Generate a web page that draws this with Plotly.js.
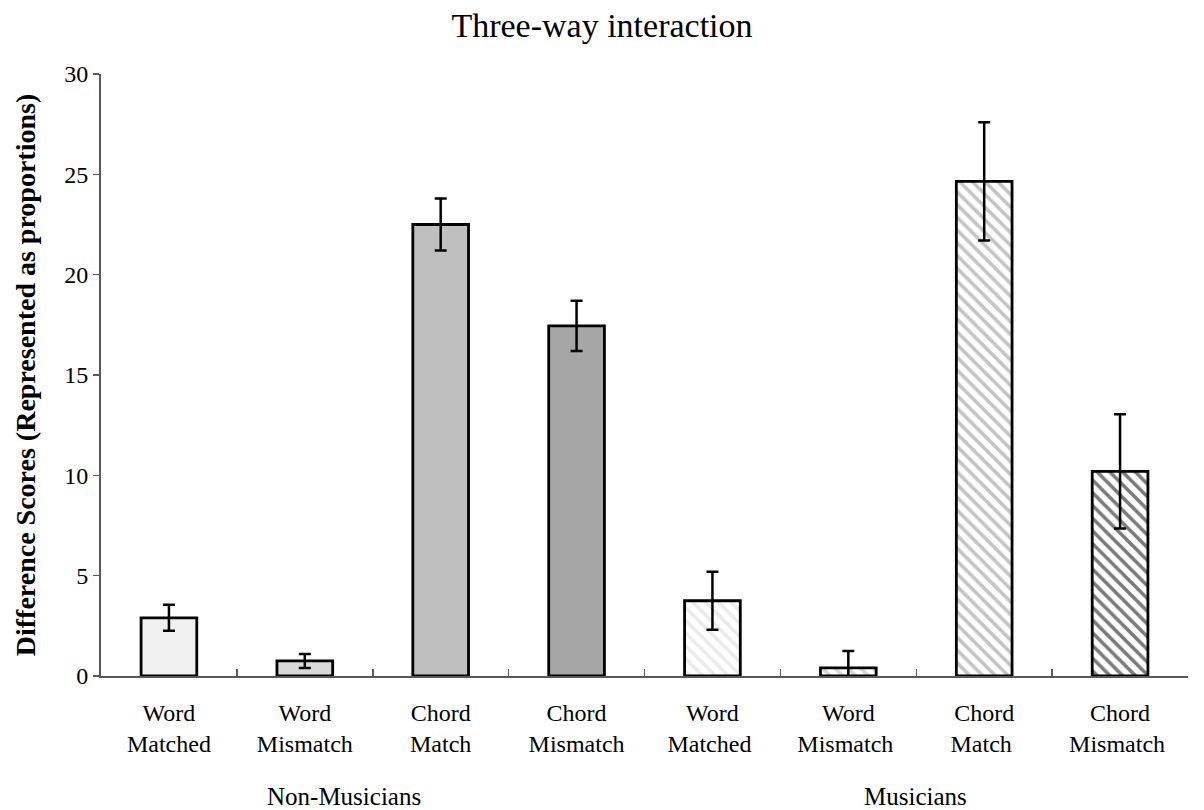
<!DOCTYPE html>
<html>
<head>
<meta charset="utf-8">
<script src="https://cdn.plot.ly/plotly-3.0.1.min.js"></script>
<style>html,body{margin:0;padding:0;background:#fff;}#chart{width:1204px;height:810px;}</style>
</head>
<body>
<div id="chart"></div>
<script>
const categories = ["Word<br>Matched", "Word<br>Mismatch", "Chord<br>Match", "Chord<br>Mismatch",
                    "Word<br>Matched ", "Word<br>Mismatch ", "Chord<br>Match ", "Chord<br>Mismatch "];
const nmCategories = categories.slice(0, 4);
const mCategories = categories.slice(4);
const nmValues = [2.9, 0.75, 22.5, 17.45];
const nmErrors = [0.65, 0.35, 1.3, 1.25];
const mValues = [3.75, 0.4, 24.65, 10.2];
const mErrors = [1.45, 0.85, 2.95, 2.85];
const groupLabels = ["Non-Musicians", "Musicians"];
const nmColors = ["#f0f0f0", "#d9d9d9", "#bfbfbf", "#a6a6a6"];
const mHatchColors = ["#ebebeb", "#d6d6d6", "#c4c4c4", "#7a7a7a"];

const serif = "Liberation Serif, Times New Roman, serif";

const traceNM = {
  type: "bar",
  x: nmCategories,
  y: nmValues,
  width: 0.41,
  marker: {color: nmColors, line: {color: "#000", width: 2.8}},
  error_y: {type: "data", array: nmErrors, visible: true, color: "#000", thickness: 2.5, width: 6}
};

const traceM = {
  type: "bar",
  x: mCategories,
  y: mValues,
  width: 0.41,
  marker: {
    color: "#ffffff",
    line: {color: "#000", width: 2.8},
    pattern: {shape: "\\", fgcolor: mHatchColors, fgopacity: 1, bgcolor: "#ffffff", size: 9, solidity: 0.4, fillmode: "overlay"}
  },
  error_y: {type: "data", array: mErrors, visible: true, color: "#000", thickness: 2.5, width: 6}
};

const layout = {
  width: 1204, height: 810,
  margin: {l: 101, r: 16, t: 74, b: 134},
  paper_bgcolor: "#fff", plot_bgcolor: "#fff",
  showlegend: false,
  barmode: "overlay",
  font: {family: serif, color: "#000", size: 24},
  title: {text: "Three-way interaction", x: 0.5, xanchor: "center", y: 0.969, yanchor: "middle",
          font: {size: 34, family: serif, color: "#000"}},
  xaxis: {
    type: "category",
    categoryorder: "array", categoryarray: categories,
    showline: true, linecolor: "#595959", linewidth: 2,
    ticks: "inside", tickson: "boundaries", ticklen: 7, tickcolor: "#595959", tickwidth: 1.5,
    tickfont: {size: 24, family: serif, color: "#000"},
    ticklabelstandoff: 14,
    showgrid: false, zeroline: false, fixedrange: true
  },
  yaxis: {
    range: [0, 30], dtick: 5, tick0: 0,
    showline: true, linecolor: "#595959", linewidth: 2,
    ticks: "outside", ticklen: 6, tickcolor: "#595959", tickwidth: 1.5,
    tickfont: {size: 24, family: serif, color: "#000"},
    ticklabelstandoff: 0,
    showgrid: false, zeroline: false,
    title: {text: "<b>Difference Scores (Represented as proportions)</b>", standoff: 20,
            font: {size: 28, family: serif, color: "#000"}}
  },
  annotations: [
    {text: groupLabels[0], xref: "paper", yref: "paper", x: 0.224, y: -0.2, xanchor: "center", yanchor: "middle",
     showarrow: false, font: {size: 25, family: serif, color: "#000"}},
    {text: groupLabels[1], xref: "paper", yref: "paper", x: 0.749, y: -0.2, xanchor: "center", yanchor: "middle",
     showarrow: false, font: {size: 25, family: serif, color: "#000"}}
  ]
};

Plotly.newPlot("chart", [traceNM, traceM], layout, {displayModeBar: false, staticPlot: true});
</script>
</body>
</html>
